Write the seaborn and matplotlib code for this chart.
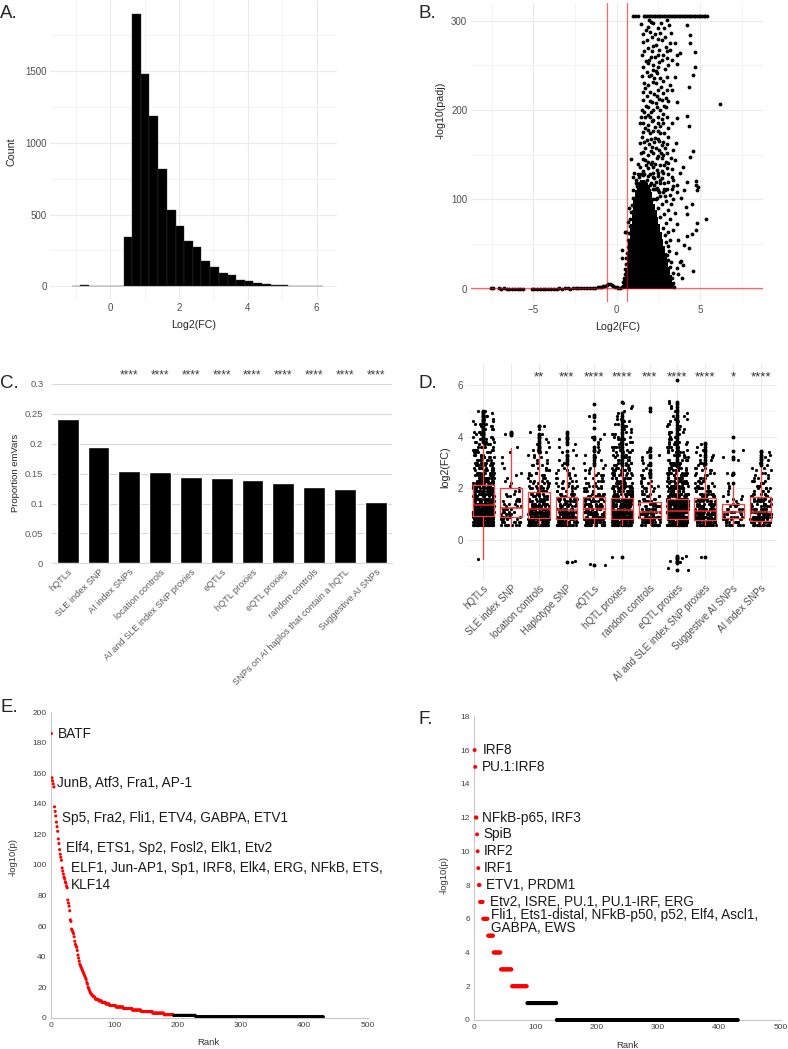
import numpy as np
import pandas as pd
import matplotlib
matplotlib.use("Agg")
import matplotlib.pyplot as plt
import seaborn as sns

# ---------------- DATA ----------------
# A: histogram of log2 fold changes (bin left edges and counts)
a_bin_left = [-1.12, -0.87, -0.62, -0.37, -0.12, 0.13, 0.39, 0.64, 0.89, 1.14, 1.39, 1.64,
              1.90, 2.15, 2.40, 2.65, 2.90, 3.16, 3.41, 3.66, 3.91, 4.16, 4.42, 4.67, 4.92,
              5.17, 5.42, 5.67, 5.93]
a_bin_right_end = 6.18
a_counts = [2, 10, 2, 0, 0, 0, 341, 1899, 1481, 1184, 817, 529, 423, 318, 272, 174, 135, 93,
            77, 46, 35, 21, 16, 9, 7, 4, 0, 0, 2]

# B: volcano plot
b_fc_cut = 0.585
b_padj_cut = 1.3
# densely packed (solid) part of the cloud: column centre and top
b_core_x = [0.35, 0.45, 0.55, 0.65, 0.75, 0.85, 0.95, 1.05, 1.15, 1.25, 1.35, 1.45, 1.55, 1.65,
            1.75, 1.85, 1.95, 2.05, 2.15, 2.25, 2.35, 2.45, 2.55, 2.65, 2.75, 2.85, 2.95, 3.05,
            3.15, 3.25, 3.35, 3.45]
b_core_h = [4, 10, 22, 38, 55, 72, 88, 100, 110, 116, 120, 122, 122, 122, 120, 118, 114, 108,
            102, 95, 88, 80, 72, 64, 56, 48, 40, 32, 24, 15, 8, 3]
b_left = [(-7.55, 0.4), (-7.45, 0.5), (-7.1, 0.3), (-6.95, 0.2), (-6.8, 0.3), (-6.62, 0.2),
          (-6.45, 0.2), (-6.3, 0.1), (-6.12, 0.2), (-5.95, 0.1), (-5.78, 0.1), (-5.6, 0.2),
          (-5.1, 0.1), (-4.95, 0.1), (-4.8, 0.2), (-4.62, 0.1), (-4.45, 0.1), (-4.3, 0.2),
          (-4.12, 0.1), (-3.95, 0.1), (-3.78, 0.2), (-3.6, 0.2), (-3.45, 0.3), (-3.3, 0.2),
          (-3.12, 0.3), (-2.95, 0.3), (-2.78, 0.2), (-2.6, 0.4), (-2.45, 0.5), (-2.3, 0.5),
          (-2.12, 0.6), (-1.95, 0.7), (-1.78, 0.8), (-1.6, 1.0), (-1.45, 1.1), (-1.3, 1.3),
          (-1.15, 1.5), (-1.0, 1.8), (-0.9, 2.2), (-0.8, 2.8), (-0.7, 3.5), (-0.6, 4.6),
          (-0.5, 5.5), (-0.4, 5.2), (-0.3, 4.0), (-0.2, 3.0), (-0.1, 2.2), (0.0, 1.5),
          (0.1, 1.0), (0.2, 1.2), (0.3, 2.0)]
b_mid = [(0.35, 3), (0.4, 8), (0.45, 12), (0.5, 16), (0.52, 22), (0.55, 28), (0.58, 34),
         (0.62, 40), (0.66, 47), (0.7, 55), (0.74, 62), (0.78, 70), (0.82, 78), (0.86, 86),
         (0.9, 94), (0.95, 102), (1.0, 110), (0.3, 43), (0.34, 34), (0.5, 64), (0.56, 64),
         (0.84, 145), (0.75, 90), (0.65, 75), (0.95, 125), (1.05, 130), (1.15, 122),
         (3.3, 3), (3.4, 6), (3.45, 2), (3.3, 12), (3.35, 18), (3.2, 24), (3.25, 30), (3.1, 32),
         (3.15, 42), (3.0, 38), (3.05, 48), (2.95, 52), (3.2, 55), (2.9, 60), (3.05, 64),
         (3.35, 66), (2.75, 68), (2.95, 74), (3.2, 78), (2.6, 80), (2.85, 84), (3.1, 88),
         (2.45, 90), (2.7, 95), (2.95, 98), (2.35, 100), (2.6, 104), (3.25, 95), (3.5, 85),
         (3.6, 72), (3.7, 55), (3.55, 40), (3.8, 30), (3.6, 23), (3.65, 16), (3.9, 12),
         (4.0, 27), (3.84, 31), (4.04, 49), (4.34, 46), (4.58, 20), (4.24, 59), (4.54, 61),
         (4.74, 66), (4.84, 73), (5.34, 78), (4.24, 84), (4.14, 91), (4.54, 95), (3.84, 102),
         (4.04, 110), (4.8, 110), (4.74, 116), (4.24, 120), (3.6, 108), (3.4, 115), (3.0, 112),
         (1.1, 102), (1.3, 108), (1.55, 112), (1.75, 106), (1.95, 110), (2.15, 100), (1.2, 115),
         (1.5, 120), (1.8, 115), (2.05, 118), (2.3, 112), (2.5, 110), (2.75, 108), (1.35, 125),
         (1.65, 128), (2.0, 128), (2.25, 124), (2.6, 122), (2.85, 118)]
b_upper = [(2.04, 299.0), (2.2, 297.2), (1.9, 293.4), (2.5, 291.6), (3.04, 300.9), (3.16, 295.3),
           (4.24, 295.3), (2.0, 287.8), (2.6, 286.0), (2.1, 282.2), (3.24, 286.0), (4.4, 284.1),
           (1.6, 275.9), (2.7, 278.5), (3.2, 274.8), (3.5, 274.8), (2.36, 272.9), (2.94, 271.0),
           (1.66, 266.6), (2.52, 267.3), (3.2, 267.3), (4.7, 265.4), (4.4, 274.8), (2.04, 259.8),
           (2.3, 259.8), (2.7, 256.1), (3.04, 258.0), (3.6, 261.7), (3.8, 264.3), (1.9, 252.4),
           (2.2, 250.5), (3.1, 250.5), (3.6, 251.6), (4.7, 247.9), (1.8, 243.0), (2.04, 239.3),
           (2.4, 241.2), (2.6, 235.6), (2.16, 231.8), (3.04, 237.4), (3.5, 237.4), (3.2, 228.1),
           (4.56, 239.3), (1.7, 224.4), (2.0, 220.6), (2.5, 222.5), (2.8, 218.8), (1.8, 215.8),
           (3.3, 222.5), (4.34, 225.5), (1.6, 211.3), (2.1, 209.4), (2.7, 211.3), (3.1, 210.6),
           (3.64, 208.7), (1.9, 203.8), (2.4, 203.8), (2.96, 203.8), (1.5, 200.1), (2.04, 198.2),
           (2.6, 200.1), (1.7, 192.6), (2.2, 188.9), (2.5, 192.6), (3.04, 192.6), (3.6, 190.8),
           (4.2, 193.4), (1.4, 185.2), (1.9, 183.3), (2.3, 181.5), (2.8, 185.2), (3.1, 179.6),
           (4.32, 182.2), (1.6, 175.8), (2.0, 174.0), (2.6, 174.0), (1.8, 166.5), (2.3, 168.4),
           (2.8, 164.7), (3.1, 170.3), (1.4, 162.8), (2.1, 159.1), (2.7, 160.9), (3.56, 163.5),
           (1.6, 153.4), (2.2, 151.6), (2.54, 155.3), (3.0, 151.6), (3.4, 155.3), (4.56, 154.6),
           (1.7, 144.1), (2.1, 142.3), (2.7, 146.0), (3.1, 140.4), (3.5, 144.1), (4.4, 147.9),
           (1.4, 136.7), (1.9, 134.8), (2.4, 132.9), (3.0, 134.8), (4.0, 136.7), (1.6, 127.3),
           (2.2, 125.4), (2.8, 129.2), (3.3, 125.4), (3.8, 129.2), (1.5, 118.0), (2.0, 116.1),
           (2.6, 118.0), (3.1, 119.9), (3.6, 116.1), (4.76, 121.0), (4.9, 113.5), (1.3, 112.4),
           (1.8, 110.5), (2.4, 112.4), (2.9, 110.5), (6.2, 206.5),
           (1.75, 290), (2.3, 285), (1.85, 270), (2.45, 262), (1.75, 255), (2.5, 248), (2.15, 245),
           (1.95, 238), (2.35, 230), (1.65, 230), (2.25, 218), (2.55, 212), (1.75, 205), (2.2, 200),
           (2.75, 196), (1.85, 195), (2.1, 188), (2.6, 182), (1.7, 180), (2.45, 176), (2.05, 168),
           (2.55, 165), (1.7, 158), (2.35, 158), (1.9, 150), (2.5, 148), (2.8, 150), (1.55, 145),
           (2.3, 140), (1.75, 138), (2.6, 138), (2.15, 130), (1.45, 128), (2.5, 126), (1.8, 122),
           (2.35, 120), (2.7, 124), (1.6, 115), (2.15, 112), (2.55, 108), (3.3, 112), (1.15, 118),
           (1.45, 106), (1.95, 104), (2.4, 102), (2.9, 104), (3.4, 100)]
b_upper2 = [(1.45, 296), (1.95, 301), (2.65, 298), (2.85, 292), (1.55, 285), (2.45, 280),
            (2.9, 282), (1.8, 278), (2.2, 272), (3.0, 266), (1.5, 262), (2.1, 266), (2.75, 262),
            (1.95, 256), (2.55, 254), (3.3, 256), (1.6, 248), (2.35, 244), (2.9, 246), (1.5, 238),
            (2.25, 236), (2.8, 232), (1.9, 228), (2.65, 226), (3.0, 222), (1.55, 220), (2.4, 216),
            (2.95, 214), (2.0, 210), (1.65, 198), (2.35, 208), (2.85, 205), (1.45, 192), (2.0, 192),
            (2.7, 190), (1.6, 186), (2.45, 186), (3.3, 186), (1.85, 178), (2.2, 176), (2.85, 174),
            (1.5, 170), (1.95, 162), (2.45, 168), (3.0, 162), (1.65, 164), (2.25, 164), (2.9, 158),
            (1.45, 152), (2.05, 154), (2.65, 152), (3.25, 146), (1.85, 142), (2.4, 146),
            (2.95, 142), (1.3, 140), (2.2, 136), (2.7, 132), (3.3, 134), (1.6, 132), (2.05, 140),
            (2.85, 138), (1.25, 128), (1.9, 126), (2.45, 130), (3.1, 128), (1.35, 118),
            (2.25, 116), (2.85, 112), (3.4, 122), (1.7, 120), (3.2, 105), (1.25, 100), (1.5, 108)]
b_top = [(1.0, 305), (1.12, 305), (1.3, 305), (1.62, 305), (1.72, 305), (1.82, 305), (1.92, 305),
         (2.02, 305), (2.12, 305), (2.22, 305), (2.32, 305), (2.42, 305), (2.52, 305), (2.62, 305),
         (2.72, 305), (2.82, 305), (2.92, 305), (3.02, 305), (3.12, 305), (3.22, 305), (3.32, 305),
         (3.42, 305), (3.52, 305), (3.62, 305), (3.72, 305), (3.82, 305), (3.92, 305), (4.02, 305),
         (4.12, 305), (4.22, 305), (4.32, 305), (4.42, 305), (4.52, 305), (4.62, 305), (4.72, 305),
         (4.82, 305), (4.92, 305), (5.02, 305), (5.12, 305), (5.22, 305), (5.32, 305), (5.4, 305)]

# C: proportion of emVars per SNP set
c_cats = ["hQTLs", "SLE index SNP", "AI index SNPs", "location controls",
          "AI and SLE index SNP proxies", "eQTLs", "hQTL proxies", "eQTL proxies",
          "random controls", "SNPs on AI haplos that contain a hQTL", "Suggestive AI SNPs"]
c_vals = [0.241, 0.195, 0.155, 0.153, 0.145, 0.142, 0.139, 0.134, 0.128, 0.125, 0.103]
c_stars = ["", "", "****", "****", "****", "****", "****", "****", "****", "****", "****"]
c_yticks = [0, 0.05, 0.1, 0.15, 0.2, 0.25, 0.3]
c_yticklabels = ["0", "0.05", "0.1", "0.15", "0.2", "0.25", "0.3"]

# D: log2(FC) of emVars per SNP set
d_cats = ["hQTLs", "SLE index SNP", "location controls", "Haplotype SNP", "eQTLs",
          "hQTL proxies", "random controls", "eQTL proxies", "AI and SLE index SNP proxies",
          "Suggestive AI SNPs", "AI index SNPs"]
d_stars = ["", "", "**", "***", "****", "****", "***", "****", "****", "*", "****"]
d_levels = [0.6, 0.7, 0.8, 0.9, 1.0, 1.1, 1.2, 1.3, 1.4, 1.5, 1.6, 1.7, 1.8, 1.9, 2.0, 2.1,
            2.2, 2.3, 2.4, 2.5, 2.6, 2.7, 2.8, 2.9, 3.0, 3.1, 3.2, 3.3, 3.4, 3.5, 3.6, 3.7,
            3.8, 3.9, 4.0, 4.1, 4.2, 4.3, 4.4, 4.5, 4.6, 4.7, 4.8, 4.9, 5.0, 5.1, 5.2, 5.3, 5.4]
d_counts = [
    [34, 34, 32, 30, 28, 26, 24, 22, 20, 19, 18, 17, 16, 15, 14, 13, 12, 12, 11, 10, 10, 9, 9,
     8, 8, 7, 7, 6, 6, 6, 5, 5, 5, 4, 4, 4, 3, 3, 3, 3, 2, 2, 2, 2, 2],
    [7, 7, 6, 6, 5, 4, 4, 3, 3, 3, 2, 2, 2, 2, 1, 1, 1, 1, 1, 1, 1, 0, 1, 0, 1, 0, 1, 0, 1, 0,
     1, 0, 0, 0, 0, 1, 1],
    [22, 22, 20, 18, 16, 14, 12, 11, 10, 9, 8, 7, 7, 6, 6, 5, 5, 4, 4, 4, 3, 3, 3, 3, 2, 2, 2,
     2, 2, 2, 1, 1, 1, 1, 1, 1, 1, 1, 1],
    [16, 16, 15, 14, 12, 10, 9, 8, 7, 6, 6, 5, 5, 4, 4, 4, 3, 3, 3, 2, 2, 2, 2, 1, 1, 1, 1, 1,
     1, 1, 1, 1, 1, 1],
    [18, 18, 17, 15, 13, 11, 10, 9, 8, 7, 6, 6, 5, 5, 4, 4, 3, 3, 3, 3, 2, 2, 2, 1, 1, 1, 1, 1,
     1, 1, 1, 1, 1, 1, 1, 1, 0, 0, 0, 0, 1, 0, 1],
    [30, 30, 28, 26, 24, 22, 20, 18, 16, 15, 14, 13, 12, 11, 10, 9, 9, 8, 8, 7, 7, 6, 6, 6, 5,
     5, 5, 4, 4, 4, 4, 3, 3, 3, 3, 3, 2, 2, 2, 2, 2, 2, 1, 1, 1, 1, 1, 1],
    [14, 14, 13, 12, 10, 9, 8, 7, 6, 5, 5, 4, 4, 3, 3, 3, 2, 2, 2, 2, 1, 1, 1, 1, 1, 1, 1, 1,
     1, 1],
    [36, 36, 34, 32, 30, 27, 24, 22, 20, 18, 16, 15, 14, 13, 12, 11, 10, 10, 9, 8, 8, 7, 7, 6,
     6, 6, 5, 5, 5, 4, 4, 4, 4, 3, 3, 3, 3, 2, 2, 2, 2, 2, 2, 1, 1, 1, 1, 1, 1],
    [16, 16, 15, 14, 13, 12, 11, 10, 9, 8, 7, 7, 6, 6, 5, 5, 4, 4, 4, 3, 3, 3, 3, 2, 2, 2, 2,
     2, 1, 1, 1, 1],
    [7, 7, 6, 6, 5, 4, 4, 3, 3, 2, 2, 2, 1, 1, 1, 1, 1, 0, 0, 1, 1, 0, 0, 0, 0, 1, 1, 0, 0, 1],
    [14, 14, 13, 12, 11, 10, 9, 8, 7, 6, 6, 5, 5, 4, 4, 3, 3, 3, 3, 2, 2, 2, 2, 1, 1, 1, 1, 1,
     1],
]
d_low = [[-0.75], [], [], [-0.85, -0.83], [-0.95, -0.93], [-0.65], [],
         [-0.6, -0.7, -0.8, -0.85, -0.9, -1.1, -1.15], [-0.65], [], []]
d_q1 = [0.94, 0.88, 0.84, 0.80, 0.86, 0.80, 0.84, 0.80, 0.77, 0.84, 0.74]
d_med = [1.35, 1.23, 1.19, 1.15, 1.19, 1.15, 1.08, 1.12, 1.11, 1.08, 1.08]
d_q3 = [2.13, 2.00, 1.85, 1.68, 1.65, 1.61, 1.46, 1.59, 1.64, 1.41, 1.66]
d_whislo = [-0.75, 0.60, 0.60, 0.60, 0.60, 0.60, 0.60, 0.60, 0.60, 0.60, 0.60]
d_whishi = [3.74, 3.55, 3.35, 2.86, 2.81, 2.84, 2.32, 2.77, 2.90, 2.13, 2.84]
d_fliers = [
    [3.8, 3.85, 3.9, 3.95, 4.0, 4.05, 4.1, 4.15, 4.2, 4.25, 4.3, 4.35, 4.4, 4.45, 4.5, 4.55,
     4.6, 4.65, 4.7, 4.75, 4.8, 4.85, 4.9, 4.95, 5.0],
    [4.05, 4.1, 4.15, 4.2],
    [3.4, 3.45, 3.5, 3.55, 3.6, 3.65, 3.75, 3.85, 3.95, 4.0, 4.05, 4.1, 4.4, 4.42],
    [2.95, 3.05, 3.15, 3.25, 3.3, 3.45, 3.7, 3.8, 3.9, 3.95, 4.0, 4.1, 4.2, -0.85],
    [2.9, 3.0, 3.1, 3.2, 3.3, 3.45, 3.5, 3.6, 3.9, 4.0, 4.35, 4.75, 4.85, 5.25, -0.95],
    [2.9, 3.0, 3.1, 3.2, 3.3, 3.4, 3.5, 3.6, 3.7, 3.8, 3.9, 4.0, 4.1, 4.2, 4.3, 4.4, 4.5,
     4.6, 4.7, 4.8, 4.9, 5.35, -0.65],
    [2.45, 2.5, 2.6, 2.7, 2.9, 3.0, 3.2, 3.3, 3.45, 3.55, 5.0, 5.1],
    [2.85, 2.95, 3.05, 3.15, 3.25, 3.35, 3.45, 3.55, 3.65, 3.75, 3.85, 3.95, 4.05, 4.15, 4.25,
     4.35, 4.45, 4.55, 4.65, 4.75, 4.85, 4.95, 5.05, 5.15, 5.25, 5.35, 6.2, -0.6, -0.65,
     -0.7, -0.75, -0.8, -0.85, -0.9, -1.15],
    [2.95, 3.0, 3.1, 3.2, 3.3, 3.4, 3.5, 3.6, 3.7, 3.75, -0.65],
    [2.2, 2.55, 2.6, 3.15, 3.2, 3.45, 4.0],
    [2.9, 3.0, 3.1, 3.15, 3.2, 3.3, 3.4, 3.45],
]

# E: motif enrichment (rank vs -log10 p)
e_head = [186, 157, 155, 153, 151, 138, 135, 132, 128, 125, 122, 117, 114, 110, 107, 105, 103,
          98, 96, 94, 92, 91, 89, 88, 86, 85, 77, 75, 73, 70, 64, 63, 58, 57, 56, 55, 53, 50,
          48, 47, 46, 44, 41, 39, 37, 35, 34, 33, 32, 31, 30, 29, 28, 27, 26, 25, 23, 22, 20,
          19, 18, 17, 16, 15.5, 15, 14.5, 14, 14, 13.5, 13]
e_tail_levels = [12, 11, 10, 9, 8, 7, 6, 5, 4, 3, 2, 1.5, 0.6]
e_tail_counts = [5, 5, 6, 6, 10, 12, 14, 14, 18, 18, 15, 35, 202]
e_n_significant = 193
e_labels = ["BATF", "JunB, Atf3, Fra1, AP-1", "Sp5, Fra2, Fli1, ETV4, GABPA, ETV1",
            "Elf4, ETS1, Sp2, Fosl2, Elk1, Etv2",
            "ELF1, Jun-AP1, Sp1, IRF8, Elk4, ERG, NFkB, ETS,\nKLF14"]
e_label_rank = [12, 10.5, 17.4, 23.7, 32]
e_label_y = [185.7, 153.4, 130.9, 110.9, 92.5]

# F: motif enrichment, second set
f_levels = [16, 15, 12, 11, 10, 9, 8, 7, 6, 5, 4, 3, 2, 1, 0]
f_counts = [1, 1, 2, 1, 1, 1, 2, 5, 8, 9, 12, 18, 25, 48, 296]
f_sig_min = 2
f_labels = ["IRF8", "PU.1:IRF8", "NFkB-p65, IRF3", "SpiB", "IRF2", "IRF1", "ETV1, PRDM1",
            "Etv2, ISRE, PU.1, PU.1-IRF, ERG",
            "Fli1, Ets1-distal, NFkB-p50, p52, Elf4, Ascl1,\nGABPA, EWS"]
f_label_rank = [13.5, 13.5, 13.5, 14.7, 15.2, 15.5, 20.1, 26, 28.2]
f_label_y = [16, 15, 12, 11, 10, 9, 8, 7, 5.83]

# ---------------- FIGURE ----------------
sns.set_style("white")
plt.rcParams["font.family"] = ["Liberation Sans", "DejaVu Sans"]
W, H = 788, 1049
fig = plt.figure(figsize=(W / 100, H / 100), dpi=100)
fig.patch.set_facecolor("white")


def add_ax(l, t, r, b):
    return fig.add_axes([l / W, 1 - b / H, (r - l) / W, (b - t) / H])


def ftext(x, y, s, **kw):
    kw.setdefault("ha", "center")
    kw.setdefault("va", "center")
    fig.text(x / W, 1 - y / H, s, **kw)


def gg(ax, xmaj, xmin, ymaj, ymin):
    ax.set_xticks(xmaj)
    ax.set_xticks(xmin, minor=True)
    ax.set_yticks(ymaj)
    ax.set_yticks(ymin, minor=True)
    ax.grid(True, which="major", color="#ebebeb", lw=0.8)
    ax.grid(True, which="minor", color="#f0f0f0", lw=0.5)
    ax.set_axisbelow(True)
    for s in ax.spines.values():
        s.set_visible(False)
    ax.tick_params(which="both", length=0, labelsize=7, labelcolor="#4d4d4d", pad=2.5)
    ax.set_xlabel("")
    ax.set_ylabel("")
    ax.set_facecolor("white")


def excel(ax):
    for k in ["top", "right"]:
        ax.spines[k].set_visible(False)
    for k in ["left", "bottom"]:
        ax.spines[k].set_color("#c8c8c8")
        ax.spines[k].set_linewidth(0.8)
    ax.tick_params(length=0, labelsize=6, labelcolor="#404040", pad=3)
    ax.set_xlabel("")
    ax.set_ylabel("")
    ax.grid(False)


# ---- A ----
axA = add_ax(50, 0, 337, 300)
sns.histplot(x=a_bin_left, weights=a_counts, bins=a_bin_left + [a_bin_right_end],
             color="black", edgecolor="#3c3c3c", linewidth=0.3, alpha=1, ax=axA)
axA.set_xlim(-1.75, 6.59)
axA.set_ylim(-95, 1994)
gg(axA, [0, 2, 4, 6], [-1, 1, 3, 5], [0, 500, 1000, 1500], [250, 750, 1250, 1750])
ftext(11.7, 151.7, "Count", rotation=90, fontsize=7.7)
ftext(194, 325, "Log2(FC)", fontsize=7.7)
ftext(0, 13.5, "A.", ha="left", fontsize=13.5)

# ---- B ----
axB = add_ax(470.7, 2.6, 763, 302)
axB.bar(b_core_x, b_core_h, width=0.1, color="black", linewidth=0, zorder=2)
b_all = b_left + b_mid + b_upper + b_upper2 + b_top
dfB = pd.DataFrame(b_all, columns=["log2fc", "nlp"])
sns.scatterplot(data=dfB, x="log2fc", y="nlp", color="black", s=7.5, linewidth=0, ax=axB,
                zorder=3)
axB.axvline(-b_fc_cut, color="red", alpha=0.6, lw=0.9, zorder=4)
axB.axvline(b_fc_cut, color="red", alpha=0.6, lw=0.9, zorder=4)
axB.axhline(b_padj_cut, color="red", alpha=0.6, lw=0.9, zorder=4)
axB.set_xlim(-8.77, 8.78)
axB.set_ylim(-14.9, 320.3)
gg(axB, [-5, 0, 5], [-7.5, -2.5, 2.5, 7.5], [0, 100, 200, 300], [50, 150, 250])
ftext(440.7, 110, "-log10(padj)", rotation=90, fontsize=7.7)
ftext(617.3, 327, "Log2(FC)", fontsize=7.7)
ftext(419, 13.5, "B.", ha="left", fontsize=13.5)

# ---- C ----
axC = add_ax(51.7, 384, 392, 563.3)
sns.barplot(x=c_cats, y=c_vals, color="black", width=0.71, saturation=1, ax=axC, zorder=3)
axC.set_xlim(-0.52, 10.53)
axC.set_ylim(0, 0.3)
axC.set_yticks(c_yticks)
axC.set_yticklabels(c_yticklabels)
axC.yaxis.grid(True, color="#d9d9d9", lw=0.8)
axC.set_axisbelow(True)
for k in ["top", "right", "left"]:
    axC.spines[k].set_visible(False)
axC.spines["bottom"].set_color("#d9d9d9")
axC.tick_params(axis="y", length=0, labelsize=6.8, labelcolor="#595959", pad=6)
axC.tick_params(axis="x", length=0, labelsize=6.6, labelcolor="#595959", pad=3)
axC.set_xticks(range(len(c_cats)))
axC.set_xticklabels(c_cats, rotation=45, ha="right", va="top", rotation_mode="anchor")
axC.set_xlabel("")
axC.set_ylabel("")
for i, s in enumerate(c_stars):
    if s:
        axC.text(i, 0.314, s, ha="center", va="center", fontsize=8.5, color="#404040",
                 clip_on=False)
ftext(15, 473, "Proportion emVars", rotation=90, fontsize=6.8, color="#222222")
ftext(0, 384, "C.", ha="left", fontsize=13.5)

# ---- D ----
axD = add_ax(466.7, 363.6, 777.3, 579.8)
rows = []
for cat, cnt, low in zip(d_cats, d_counts, d_low):
    vals = list(np.repeat(d_levels[:len(cnt)], cnt)) + list(low)
    rows += [(cat, v) for v in vals]
dfD = pd.DataFrame(rows, columns=["set", "log2fc"])
np.random.seed(7)
sns.stripplot(data=dfD, x="set", y="log2fc", order=d_cats, color="black", size=2.3,
              jitter=0.38, linewidth=0, ax=axD, zorder=2)
stats = [dict(med=m, q1=a, q3=b, whislo=lo, whishi=hi, fliers=fl)
         for m, a, b, lo, hi, fl in zip(d_med, d_q1, d_q3, d_whislo, d_whishi, d_fliers)]
axD.bxp(stats, positions=list(range(len(d_cats))), widths=0.78, showcaps=False,
        manage_ticks=False,
        boxprops=dict(color="#ff3b3b", lw=0.9),
        whiskerprops=dict(color="#ff3b3b", lw=0.9),
        medianprops=dict(color="#ff2020", lw=1.1),
        flierprops=dict(marker="o", markerfacecolor="black", markeredgecolor="none",
                        markersize=2.8), zorder=3)
axD.set_xlim(-0.6, 10.6)
axD.set_ylim(-1.54, 6.83)
gg(axD, list(range(len(d_cats))), [], [0, 2, 4, 6], [-1, 1, 3, 5])
axD.set_xticklabels(d_cats, rotation=45, ha="right", va="top", rotation_mode="anchor")
for i, s in enumerate(d_stars):
    if s:
        axD.text(i, 6.3, s, ha="center", va="center", fontsize=9.5, color="#333333")
ftext(445.7, 466.7, "log2(FC)", rotation=90, fontsize=7.7)
ftext(419, 383.5, "D.", ha="left", fontsize=13.5)

# ---- E ----
axE = add_ax(50.7, 712.1, 367.7, 1017.7)
e_vals = list(e_head) + list(np.repeat(e_tail_levels, e_tail_counts))
e_rank = np.arange(1, len(e_vals) + 1)
e_grp = np.where(e_rank <= e_n_significant, "sig", "ns")
dfE = pd.DataFrame({"rank": e_rank, "nlp": e_vals, "grp": e_grp})
sns.scatterplot(data=dfE, x="rank", y="nlp", hue="grp", palette={"sig": "#ff0000", "ns": "black"},
                s=5, linewidth=0, legend=False, ax=axE, zorder=3)
axE.set_xlim(0, 500)
axE.set_ylim(0, 200)
axE.set_xticks(range(0, 501, 100))
axE.set_yticks(range(0, 201, 20))
excel(axE)
for t, r, y in zip(e_labels, e_label_rank, e_label_y):
    axE.text(r, y, t, ha="left", va="center", fontsize=9.8, color="#1a1a1a", linespacing=1.3)
ftext(13, 856.7, "-log10(p)", rotation=90, fontsize=6.8, color="#333333")
ftext(208.5, 1042.7, "Rank", fontsize=6.8, color="#333333")
ftext(0, 708, "E.", ha="left", fontsize=13.5)

# ---- F ----
axF = add_ax(474, 716.3, 780.7, 1020)
f_vals = np.repeat(f_levels, f_counts)
f_rank = np.arange(1, len(f_vals) + 1)
f_grp = np.where(f_vals >= f_sig_min, "sig", "ns")
dfF = pd.DataFrame({"rank": f_rank, "nlp": f_vals, "grp": f_grp})
sns.scatterplot(data=dfF, x="rank", y="nlp", hue="grp", palette={"sig": "#ff0000", "ns": "black"},
                s=8, linewidth=0, legend=False, ax=axF, zorder=3, clip_on=False)
axF.set_xlim(0, 500)
axF.set_ylim(0, 18)
axF.set_xticks(range(0, 501, 100))
axF.set_yticks(range(0, 19, 2))
excel(axF)
for t, r, y in zip(f_labels, f_label_rank, f_label_y):
    axF.text(r, y, t, ha="left", va="center", fontsize=9.8, color="#1a1a1a", linespacing=0.85)
ftext(444, 875, "-log10(p)", rotation=90, fontsize=6.8, color="#333333")
ftext(627.3, 1045, "Rank", fontsize=6.8, color="#333333")
ftext(419, 720, "F.", ha="left", fontsize=13.5)

fig.savefig("out.png", dpi=100, facecolor="white")
